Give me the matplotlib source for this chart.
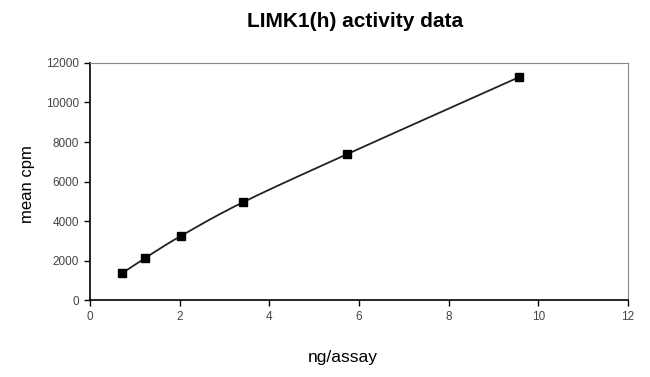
import matplotlib
matplotlib.use('Agg')
import matplotlib.pyplot as plt
import numpy as np

plt.rcParams['font.family'] = ['Liberation Sans', 'DejaVu Sans']

ng_assay = [0.72, 1.23, 2.03, 3.42, 5.74, 9.58]
mean_cpm = [1370, 2130, 3250, 4960, 7390, 11290]


def smooth(xs, ys, n=30):
    # catmull-rom style curve through the points, like excel's smoothed line
    px = np.array(xs, dtype=float)
    py = np.array(ys, dtype=float)
    px = np.concatenate([[2*px[0]-px[1]], px, [2*px[-1]-px[-2]]])
    py = np.concatenate([[2*py[0]-py[1]], py, [2*py[-1]-py[-2]]])
    outx, outy = [], []
    t = np.linspace(0, 1, n)
    for i in range(1, len(px)-2):
        for p, out in ((px, outx), (py, outy)):
            p0, p1, p2, p3 = p[i-1], p[i], p[i+1], p[i+2]
            out.extend(0.5*((2*p1) + (-p0+p2)*t + (2*p0-5*p1+4*p2-p3)*t**2
                            + (-p0+3*p1-3*p2+p3)*t**3))
    return outx, outy


fig = plt.figure(figsize=(6.5, 3.77), dpi=100)
ax = fig.add_axes([0.1385, 0.204, 0.8275, 0.629])

cx, cy = smooth(ng_assay, mean_cpm)
ax.plot(cx, cy, color='#222222', lw=1.3)
ax.plot(ng_assay, mean_cpm, 's', color='black', ms=5.2)

ax.set_xlim(0, 12)
ax.set_ylim(0, 12000)
ax.set_xticks(range(0, 13, 2))
ax.set_yticks(range(0, 12001, 2000))
ax.tick_params(labelsize=8.5, labelcolor='#444444', length=4, width=1, pad=4)

for s in ['top', 'right']:
    ax.spines[s].set_color('#888888')
for s in ['left', 'bottom']:
    ax.spines[s].set_color('black')
    ax.spines[s].set_linewidth(1.2)

fig.text(0.546, 0.942, 'LIMK1(h) activity data', ha='center', va='center',
         fontsize=15, fontweight='bold')
fig.text(0.528, 0.053, 'ng/assay', ha='center', va='center', fontsize=12.5)
fig.text(0.042, 0.512, 'mean cpm', ha='center', va='center', fontsize=12,
         rotation=90)

plt.savefig('out.png')
